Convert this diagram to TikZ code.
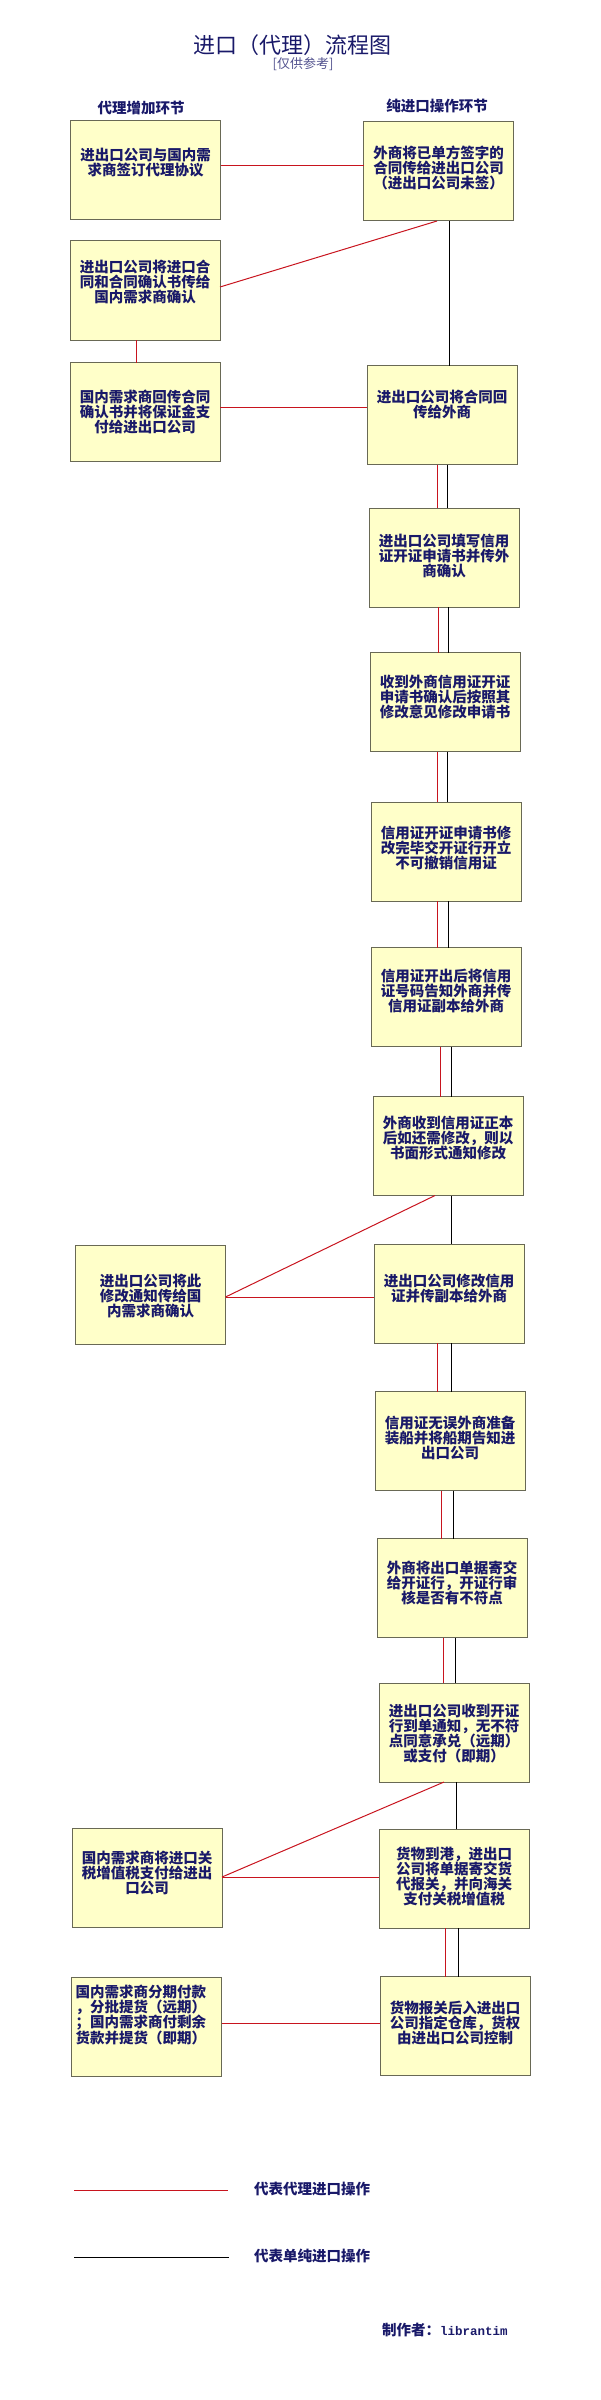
\documentclass[tikz,border=0pt]{standalone}
\usepackage{fontspec}
\setmainfont{Noto Sans CJK SC}
\newfontfamily\monob{Liberation Mono}
\definecolor{boxfill}{RGB}{255,255,201}
\definecolor{boxborder}{RGB}{105,105,85}
\definecolor{redline}{RGB}{200,20,30}
\definecolor{navy}{RGB}{25,25,105}
\newcommand\bt[2]{\parbox[c][99pt][t]{150pt}{\centering\vspace*{#1pt}#2\par}}
\newcommand\bl[2]{\parbox[c][99pt][t]{150pt}{\vspace*{#1pt}\leftskip=4pt\noindent #2\par}}
\tikzset{
  box/.style={draw=boxborder, fill=boxfill, line width=1pt, inner sep=0pt, outer sep=0pt,
    text=navy, font=\bfseries\fontsize{14.5}{15}\selectfont},
  agent/.style={draw=redline, line width=1pt},
  pure/.style={draw=black, line width=1pt},
  lbl/.style={text=navy, inner sep=0pt, font=\bfseries\fontsize{14.5}{15}\selectfont}
}
\begin{document}
\begin{tikzpicture}[x=1pt,y=-1pt]
\useasboundingbox (0,0) rectangle (600,2400);
% titles
\node[text=navy, inner sep=0pt, font=\fontsize{22}{24}\selectfont] (title) at (292,45) {进口（代理）流程图};
\node[text=navy!75, inner sep=0pt, font=\fontsize{13}{14}\selectfont] (sub) at (303,64) {[仅供参考]};
\node[lbl] (hl) at (141,108) {代理增加环节};
\node[lbl] (hr) at (437,106) {纯进口操作环节};
% left column
\node[box] (L1) at (145.5,170.5) {\bt{27}{进出口公司与国内需\\求商签订代理协议}};
\node[box] (L2) at (145,290.5) {\bt{19}{进出口公司将进口合\\同和合同确认书传给\\国内需求商确认}};
\node[box] (L3) at (145,412) {\bt{27}{国内需求商回传合同\\确认书并将保证金支\\付给进出口公司}};
\node[box] (L4) at (150.5,1294.5) {\bt{29}{进出口公司将此\\修改通知传给国\\内需求商确认}};
\node[box] (L5) at (147,1877.5) {\bt{23}{国内需求商将进口关\\税增值税支付给进出\\口公司}};
\node[box] (L6) at (146.5,2026.5) {\bl{8}{国内需求商分期付款\\，分批提货（远期）\\；国内需求商付剩余\\货款并提货（即期）}};
% right column
\node[box] (R1) at (438.5,171.5) {\bt{24}{外商将已单方签字的\\合同传给进出口公司\\（进出口公司未签）}};
\node[box] (R2) at (442,415) {\bt{25}{进出口公司将合同回\\传给外商}};
\node[box] (R3) at (444,557.5) {\bt{26}{进出口公司填写信用\\证开证申请书并传外\\商确认}};
\node[box] (R4) at (445,702) {\bt{22}{收到外商信用证开证\\申请书确认后按照其\\修改意见修改申请书}};
\node[box] (R5) at (446,851.5) {\bt{24}{信用证开证申请书修\\改完毕交开证行开立\\不可撤销信用证}};
\node[box] (R6) at (446,997) {\bt{22}{信用证开出后将信用\\证号码告知外商并传\\信用证副本给外商}};
\node[box] (R7) at (448,1146) {\bt{19}{外商收到信用证正本\\后如还需修改，则以\\书面形式通知修改}};
\node[box] (R8) at (449,1293.5) {\bt{30}{进出口公司修改信用\\证并传副本给外商}};
\node[box] (R9) at (450,1441) {\bt{24}{信用证无误外商准备\\装船并将船期告知进\\出口公司}};
\node[box] (R10) at (452,1588) {\bt{22}{外商将出口单据寄交\\给开证行，开证行审\\核是否有不符点}};
\node[box] (R11) at (454,1732.5) {\bt{21}{进出口公司收到开证\\行到单通知，无不符\\点同意承兑（远期）\\或支付（即期）}};
\node[box] (R12) at (454,1878.5) {\bt{18}{货物到港，进出口\\公司将单据寄交货\\代报关，并向海关\\支付关税增值税}};
\node[box] (R13) at (455,2026) {\bt{24}{货物报关后入进出口\\公司指定仓库，货权\\由进出口公司控制}};
% agency (red) connectors
\draw[agent] (L1.east |- 0,166) -- (R1.west |- 0,166);
\draw[agent] (R1.south -| 437,0) -- (L2.east |- 0,287);
\draw[agent] (L2.south -| 136,0) -- (L3.north -| 136,0);
\draw[agent] (L3.east |- 0,407) -- (R2.west |- 0,407);
\draw[agent] (R2.south -| 437,0) -- (R3.north -| 437,0);
\draw[agent] (R3.south -| 438,0) -- (R4.north -| 438,0);
\draw[agent] (R4.south -| 437,0) -- (R5.north -| 437,0);
\draw[agent] (R5.south -| 437,0) -- (R6.north -| 437,0);
\draw[agent] (R6.south -| 440,0) -- (R7.north -| 440,0);
\draw[agent] (R7.south -| 435,0) -- (L4.east |- 0,1297);
\draw[agent] (L4.east |- 0,1297) -- (R8.west |- 0,1297);
\draw[agent] (R8.south -| 437,0) -- (R9.north -| 437,0);
\draw[agent] (R9.south -| 441,0) -- (R10.north -| 441,0);
\draw[agent] (R10.south -| 443,0) -- (R11.north -| 443,0);
\draw[agent] (R11.south -| 444,0) -- (L5.east |- 0,1877);
\draw[agent] (L5.east |- 0,1877) -- (R12.west |- 0,1877);
\draw[agent] (R12.south -| 445,0) -- (R13.north -| 445,0);
\draw[agent] (L6.east |- 0,2023) -- (R13.west |- 0,2023);
% pure import (black) connectors
\draw[pure] (R1.south -| 449,0) -- (R2.north -| 449,0);
\draw[pure] (R2.south -| 447,0) -- (R3.north -| 447,0);
\draw[pure] (R3.south -| 448,0) -- (R4.north -| 448,0);
\draw[pure] (R4.south -| 447,0) -- (R5.north -| 447,0);
\draw[pure] (R5.south -| 448,0) -- (R6.north -| 448,0);
\draw[pure] (R6.south -| 451,0) -- (R7.north -| 451,0);
\draw[pure] (R7.south -| 451,0) -- (R8.north -| 451,0);
\draw[pure] (R8.south -| 451,0) -- (R9.north -| 451,0);
\draw[pure] (R9.south -| 453,0) -- (R10.north -| 453,0);
\draw[pure] (R10.south -| 455,0) -- (R11.north -| 455,0);
\draw[pure] (R11.south -| 456,0) -- (R12.north -| 456,0);
\draw[pure] (R12.south -| 458,0) -- (R13.north -| 458,0);
% legend
\coordinate (ra) at (74,2190);
\coordinate (rb) at (228,2190);
\coordinate (ka) at (74,2257);
\coordinate (kb) at (229,2257);
\draw[agent] (ra) -- (rb);
\draw[pure] (ka) -- (kb);
\node[lbl, anchor=west] (legr) at (254,2189) {代表代理进口操作};
\node[lbl, anchor=west] (legk) at (254,2256) {代表单纯进口操作};
\node[lbl, anchor=west] (author) at (382,2330) {制作者：{\monob\fontsize{12.5}{14}\selectfont librantim}};
\end{tikzpicture}
\end{document}
